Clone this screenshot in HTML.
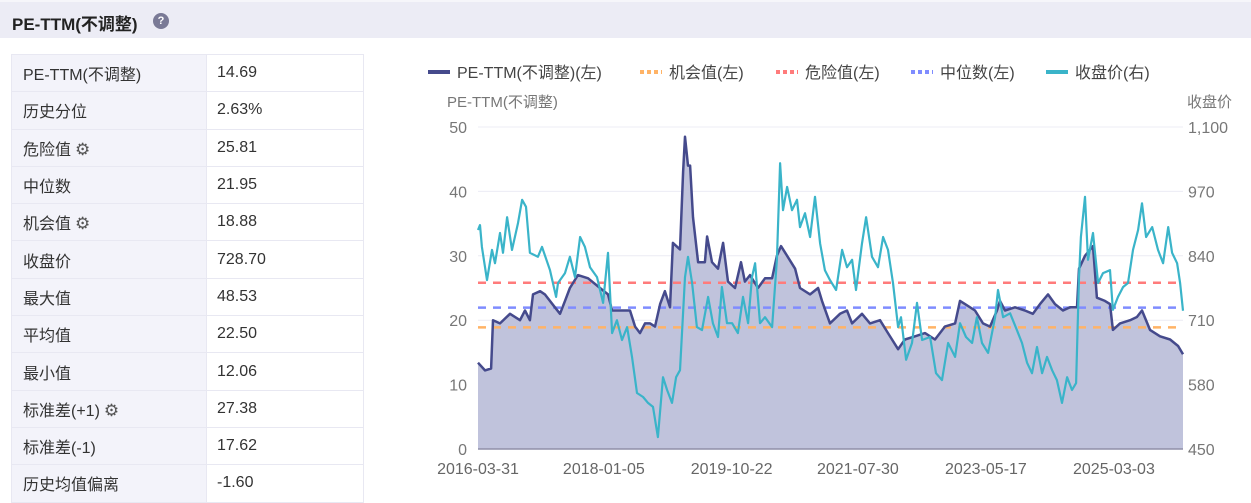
<!DOCTYPE html>
<html><head><meta charset="utf-8">
<style>
*{box-sizing:border-box;margin:0;padding:0}
body{width:1251px;height:500px;overflow:hidden;background:#fff;font-family:"Liberation Sans","Noto Sans CJK SC",sans-serif;color:#333;position:relative}
#hdr{position:absolute;left:0;top:0;width:1251px;height:38px;background:#ececf5;border-top:2px solid #f6f6fa}
#hdr .t{position:absolute;left:12px;top:8px;font-size:17px;font-weight:bold;color:#222}
#hdr .q{position:absolute;left:153px;top:11px;width:16px;height:16px;border-radius:50%;background:#7a7a96;color:#fff;font-size:11px;font-weight:bold;text-align:center;line-height:16px}
table{position:absolute;left:11px;top:54px;border-collapse:collapse;width:353px}
td{height:37.3px;border:1px solid #e8e8f2;font-size:16px;padding-left:11px;color:#333}
td.k{background:#f3f3fa;width:195px}
td.v{padding-left:10px}
.gear{font-size:17px;color:#555;margin-left:4px}
svg{position:absolute;left:0;top:0}
</style></head><body>
<div id="hdr"><span class="t">PE-TTM(不调整)</span><span class="q">?</span></div>
<table>
<tr><td class="k">PE-TTM(不调整)</td><td class="v">14.69</td></tr>
<tr><td class="k">历史分位</td><td class="v">2.63%</td></tr>
<tr><td class="k">危险值<span class="gear">⚙</span></td><td class="v">25.81</td></tr>
<tr><td class="k">中位数</td><td class="v">21.95</td></tr>
<tr><td class="k">机会值<span class="gear">⚙</span></td><td class="v">18.88</td></tr>
<tr><td class="k">收盘价</td><td class="v">728.70</td></tr>
<tr><td class="k">最大值</td><td class="v">48.53</td></tr>
<tr><td class="k">平均值</td><td class="v">22.50</td></tr>
<tr><td class="k">最小值</td><td class="v">12.06</td></tr>
<tr><td class="k">标准差(+1)<span class="gear">⚙</span></td><td class="v">27.38</td></tr>
<tr><td class="k">标准差(-1)</td><td class="v">17.62</td></tr>
<tr><td class="k">历史均值偏离</td><td class="v">-1.60</td></tr>
</table>
<svg id="chart" width="1251" height="500"></svg>
<script>
const xLabels=["2016-03-31","2018-01-05","2019-10-22","2021-07-30","2023-05-17","2025-03-03"];
const xLabelDays=[0,645,1300,1947,2603,3259];
const leftTicks=[0,10,20,30,40,50];
const rightTicks=[450,580,710,840,970,1100];
const peDays=[0,36,67,77,113,164,215,241,266,282,318,343,394,420,446,471,512,564,625,666,687,728,779,805,830,856,882,907,933,958,984,999,1035,1051,1061,1076,1087,1102,1128,1163,1174,1199,1230,1256,1281,1317,1348,1368,1394,1435,1471,1507,1532,1553,1584,1625,1650,1702,1743,1763,1804,1855,1891,1917,1968,2009,2060,2101,2153,2188,2240,2291,2342,2393,2445,2470,2496,2547,2588,2624,2660,2675,2701,2752,2803,2844,2880,2921,2957,2998,3034,3070,3080,3111,3152,3172,3213,3239,3254,3290,3342,3377,3403,3444,3495,3547,3588,3613];
const peValues=[13.4,12.2,12.5,20,19.5,21,20,21.5,20,24,24.5,24,22,21,23,25,27,26.5,25,24,21.5,21.5,21.5,19,18,19.5,19.5,19,22.5,24.5,22,32,31,43,48.5,44,44,36,29,29,33,29,28,32,26,25,29,26,27,25,26.5,26.5,30,31.5,30,28,25,24,25,23,19.5,21,21.5,19.5,21,19.5,20,18,15.5,17,17.5,18,17,19,19.5,23,22.5,21.5,19.5,19,21.5,23,21.5,22,21.5,21,22.5,24,22.5,21.5,22,22,28,30,31.5,23.5,23,22.5,18.5,19.5,20,20.5,21.5,18.5,17.5,17,16,14.7];
const priceDays=[0,10,20,46,72,87,113,128,149,174,205,226,246,266,307,328,369,400,410,446,471,497,523,548,574,610,641,666,687,712,738,764,789,815,846,871,897,922,948,969,994,1015,1035,1061,1076,1097,1122,1148,1179,1204,1230,1250,1276,1302,1332,1358,1384,1404,1420,1445,1471,1507,1532,1548,1563,1584,1609,1635,1650,1676,1702,1727,1753,1778,1804,1835,1866,1891,1917,1937,1968,1989,2019,2050,2076,2101,2127,2153,2168,2194,2224,2250,2276,2317,2347,2378,2409,2445,2470,2501,2532,2557,2583,2614,2650,2665,2691,2727,2762,2788,2814,2839,2865,2891,2916,2942,2967,2993,3019,3044,3065,3080,3090,3111,3126,3152,3178,3203,3239,3254,3280,3306,3331,3357,3383,3403,3424,3455,3485,3511,3537,3557,3583,3598,3613];
const priceValues=[892,902,858,791,852,825,886,846,918,852,906,953,939,846,838,858,811,757,785,805,838,797,878,858,817,797,745,846,684,710,670,696,636,563,555,543,535,474,595,569,543,595,609,797,838,785,696,690,757,704,676,777,704,704,684,757,704,797,825,704,716,696,832,1027,932,979,932,953,898,926,878,959,865,811,791,771,852,817,832,771,865,918,838,817,878,852,785,696,716,630,664,745,670,676,603,589,664,636,704,676,664,716,664,644,716,771,716,724,690,664,624,603,656,603,636,609,589,543,595,569,583,797,878,959,832,886,785,805,811,731,757,777,785,852,892,946,878,898,852,825,898,846,825,785,729];
const refNames=["opportunity","danger","median"];
const refValues=[18.88,25.81,21.95];
const refColors=["#ffb366","#ff7b7b","#7f8cff"];

const X0=478,X1=1183,Y0=449,Y1=127,DMAX=3613;
const xs=d=>X0+(d/DMAX)*(X1-X0);
const yl=v=>Y0-(v/50)*(Y0-Y1);
const yr=v=>Y0-((v-450)/650)*(Y0-Y1);
const svg=document.getElementById('chart');
const NS='http://www.w3.org/2000/svg';
function mk(tag,attrs,txt){const e=document.createElementNS(NS,tag);for(const k in attrs)e.setAttribute(k,attrs[k]);if(txt!==undefined)e.textContent=txt;svg.appendChild(e);return e;}
const F='"Liberation Sans","Noto Sans CJK SC",sans-serif';
// grid
leftTicks.forEach((t,i)=>{
 const g=mk('line',{x1:X0,x2:X1,y1:yl(t),y2:yl(t),stroke:'#ececf4','stroke-width':1});
 
 
 const l=mk('text',{x:467,y:yl(t)+6,'text-anchor':'end','font-size':16,fill:'#777','font-family':F},String(t));
 
 
});
rightTicks.forEach(t=>{
 const l=mk('text',{x:1188,y:yr(t)+6,'font-size':16,fill:'#777','font-family':F},t.toLocaleString('en-US'));
 
 
});
xLabels.forEach((s,i)=>{
 const l=mk('text',{x:xs(xLabelDays[i]),y:474,'text-anchor':'middle','font-size':16,fill:'#666','font-family':F},s);
 
 
});
let t1=mk('text',{x:447,y:107,'font-size':15,fill:'#777','font-family':F},'PE-TTM(不调整)');


let t2=mk('text',{x:1187,y:107,'font-size':15,fill:'#777','font-family':F},'收盘价');


// area
let pts=peDays.map((d,i)=>xs(d).toFixed(1)+','+yl(peValues[i]).toFixed(1));
let area=mk('path',{d:'M'+xs(peDays[0])+','+Y0+' L'+pts.join(' L')+' L'+xs(peDays[peDays.length-1])+','+Y0+'Z',fill:'#c0c3dc'});


let ax=mk('line',{x1:X0,x2:X1,y1:Y0,y2:Y0,stroke:'#8f8fa8','stroke-width':1.5});


refValues.forEach((v,i)=>{
 const l=mk('line',{x1:X0,x2:X1,y1:yl(v),y2:yl(v),stroke:refColors[i],'stroke-width':2.5,'stroke-dasharray':'8,7'});
 
 
});
let pe=mk('polyline',{points:pts.join(' '),fill:'none',stroke:'#454a8c','stroke-width':2.5,'stroke-linejoin':'round'});


const n=Math.min(priceDays.length,priceValues.length);
let pp=[];for(let i=0;i<n;i++)pp.push(xs(priceDays[i]).toFixed(1)+','+yr(priceValues[i]).toFixed(1));
let pr=mk('polyline',{points:pp.join(' '),fill:'none',stroke:'#3ab4c9','stroke-width':2.2,'stroke-linejoin':'round'});


// legend
const leg=[["PE-TTM(不调整)(左)",428,'#454a8c',0],["机会值(左)",640,'#ffb366',1],["危险值(左)",776,'#ff7b7b',1],["中位数(左)",911,'#7f8cff',1],["收盘价(右)",1046,'#3ab4c9',0]];
leg.forEach(e=>{
 const g=document.createElementNS(NS,'g');svg.appendChild(g);
 
 
 const m=document.createElementNS(NS,'line');
 m.setAttribute('x1',e[1]);m.setAttribute('x2',e[1]+22);m.setAttribute('y1',72);m.setAttribute('y2',72);
 m.setAttribute('stroke',e[2]);m.setAttribute('stroke-width',4);
 if(e[3])m.setAttribute('stroke-dasharray','4,3');
 g.appendChild(m);
 const t=document.createElementNS(NS,'text');
 t.setAttribute('x',e[1]+29);t.setAttribute('y',78);t.setAttribute('font-size',16);t.setAttribute('fill','#444');t.setAttribute('font-family',F);
 t.textContent=e[0];g.appendChild(t);
});
</script>
</body></html>
